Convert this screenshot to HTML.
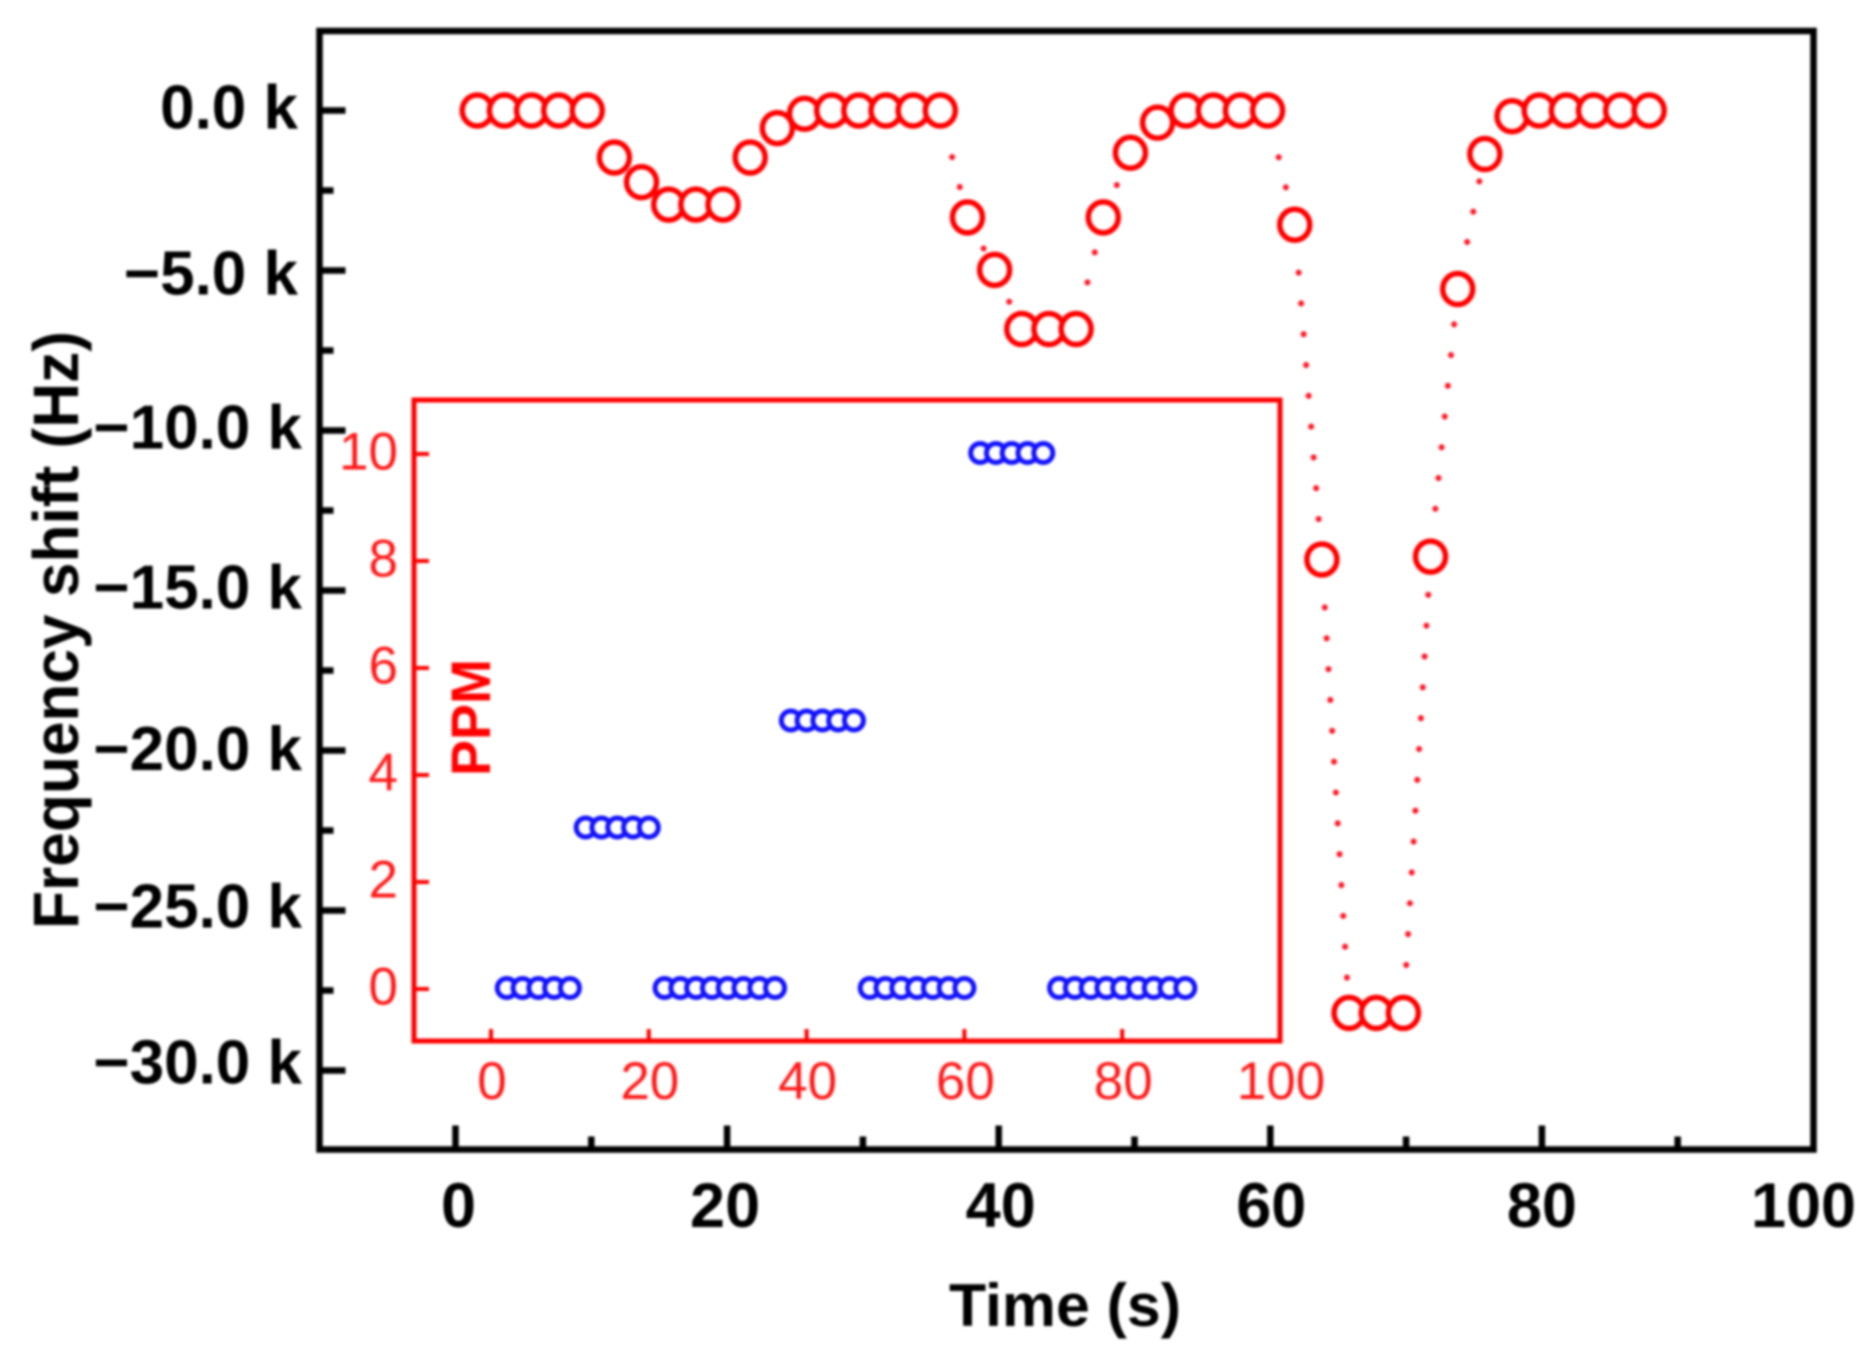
<!DOCTYPE html>
<html>
<head>
<meta charset="utf-8">
<title>Frequency shift vs time</title>
<style>
html,body{margin:0;padding:0;background:#fff;width:1872px;height:1349px;overflow:hidden}
svg{display:block;filter:blur(1.2px)}
text{font-family:"Liberation Sans",sans-serif}
.bold{font-weight:700;fill:#000}
.inset{fill:#ff1a1a}
</style>
</head>
<body>
<svg id="chart" xmlns="http://www.w3.org/2000/svg" width="1872" height="1349" viewBox="0 0 1872 1349">
  <rect x="0" y="0" width="1872" height="1349" fill="#fff"/>
  <rect x="319.5" y="31" width="1494" height="1118.5" fill="none" stroke="#000" stroke-width="6.5"/>
  <g id="mainAxes"></g>
  <g id="mainSeries"></g>
  <rect x="414" y="400" width="866" height="641" fill="#fff" fill-opacity="0" stroke="#ff0000" stroke-width="5"/>
  <g id="insetAxes"></g>
  <g id="insetSeries"></g>
  <text class="bold" font-size="64" textLength="598" lengthAdjust="spacingAndGlyphs" transform="translate(78,929) rotate(-90)" fill="#111">Frequency shift (Hz)</text>
  <text class="bold" font-size="60" textLength="232" lengthAdjust="spacingAndGlyphs" x="949" y="1326">Time (s)</text>
  <text font-weight="700" fill="#ff0000" font-size="56" textLength="117" lengthAdjust="spacingAndGlyphs" transform="translate(490,776) rotate(-90)">PPM</text>
</svg>
<script>
const times = [1.6,3.6,5.6,7.6,9.7,11.7,13.7,15.7,17.7,19.7,21.7,23.7,25.7,27.7,29.7,31.7,33.7,35.7,37.7,39.7,41.7,43.7,45.7,47.7,49.7,51.7,53.8,55.8,57.8,59.8,61.8,63.8,65.8,67.8,69.8,71.8,73.8,75.8,77.8,79.8,81.8,83.8,85.8,87.9];
const freqShiftK = [0,0,0,0,0,-1.47,-2.24,-2.94,-2.94,-2.94,-1.47,-0.55,-0.1,0,0,0,0,0,-3.34,-4.98,-6.83,-6.83,-6.83,-3.34,-1.32,-0.38,0,0,0,0,-3.57,-14.03,-28.2,-28.2,-28.2,-13.94,-5.58,-1.36,-0.18,0,0,0,0,0];
const insetTimes = [2,4,6,8,10,12,14,16,18,20,22,24,26,28,30,32,34,36,38,40,42,44,46,48,50,52,54,56,58,60,62,64,66,68,70,72,74,76,78,80,82,84,86,88];
const ppmValues = [0,0,0,0,0,3,3,3,3,3,0,0,0,0,0,0,0,0,5,5,5,5,5,0,0,0,0,0,0,0,10,10,10,10,10,0,0,0,0,0,0,0,0,0];
const xMajorTicks = [0,20,40,60,80,100];
const xMinorTicks = [10,30,50,70,90];
const yMajorTicks = [0,-5,-10,-15,-20,-25,-30];
const yMinorTicks = [-2.5,-7.5,-12.5,-17.5,-22.5,-27.5];
const yTickLabels = ['0.0 k','\u22125.0 k','\u221210.0 k','\u221215.0 k','\u221220.0 k','\u221225.0 k','\u221230.0 k'];
const insetXTicks = [0,20,40,60,80,100];
const insetYTicks = [0,2,4,6,8,10];

const xMain = t => 455.5 + t * 13.58;
const yMain = k => 110.5 - k * 32;
const xInset = t => 491 + t * 7.89;
const yInset = p => 989 - p * 53.5;

const xLabelNudge = { 0: 3, 20: -2, 40: 2, 60: 1, 80: 0, 100: -10 };
const yLabelNudge = { 0: 18, '-5': 24, '-10': 18, '-15': 18, '-20': 19.5, '-25': 17, '-30': 13 };

const NS = 'http://www.w3.org/2000/svg';
const mainAxes = document.getElementById('mainAxes');
const mainSeries = document.getElementById('mainSeries');
const insetAxes = document.getElementById('insetAxes');
const insetSeries = document.getElementById('insetSeries');
const mk = (tag, parent) => { const el = document.createElementNS(NS, tag); parent.appendChild(el); return el; };
const lineTo = (el, x1, y1, x2, y2, color, w) => {
  el.setAttribute('x1', x1); el.setAttribute('y1', y1);
  el.setAttribute('x2', x2); el.setAttribute('y2', y2);
  el.setAttribute('stroke', color); el.setAttribute('stroke-width', w);
};
const mainBottom = 1149.5, mainLeft = 319.5, insetBottom = 1041, insetLeft = 414;

xMajorTicks.forEach(v => {
  if (v === 100) return;
  const l = mk('line', mainAxes);
  
  
  lineTo(l, xMain(v), mainBottom, xMain(v), mainBottom - 24, '#000', 6.5);
});
xMinorTicks.forEach(v => {
  const l = mk('line', mainAxes);
  
  
  lineTo(l, xMain(v), mainBottom, xMain(v), mainBottom - 13, '#000', 6.5);
});
xMajorTicks.forEach(v => {
  const t = mk('text', mainAxes);
  
  
  t.setAttribute('class', 'bold');
  t.setAttribute('font-size', '63');
  t.setAttribute('text-anchor', 'middle');
  t.setAttribute('x', xMain(v) + xLabelNudge[v]);
  t.setAttribute('y', 1227);
  t.textContent = String(v);
});
yMajorTicks.forEach((v, i) => {
  const l = mk('line', mainAxes);
  
  
  lineTo(l, mainLeft, yMain(v), mainLeft + 26, yMain(v), '#000', 6.5);
  const t = mk('text', mainAxes);
  
  
  t.setAttribute('class', 'bold');
  t.setAttribute('font-size', '62');
  t.setAttribute('text-anchor', 'end');
  t.setAttribute('x', i < 2 ? 298 : 302);
  t.setAttribute('y', yMain(v) + yLabelNudge[v]);
  t.textContent = yTickLabels[i];
});
yMinorTicks.forEach(v => {
  const l = mk('line', mainAxes);
  
  
  lineTo(l, mainLeft, yMain(v), mainLeft + 14, yMain(v), '#000', 6.5);
});

for (let i = 0; i < times.length - 1; i++) {
  const x1 = xMain(times[i]), y1 = yMain(freqShiftK[i]);
  const x2 = xMain(times[i + 1]), y2 = yMain(freqShiftK[i + 1]);
  const len = Math.hypot(x2 - x1, y2 - y1);
  const startGap = len < 100 ? 35 : 48;
  const endGap = 24;
  if (len <= startGap + endGap) continue;
  const ux = (x2 - x1) / len, uy = (y2 - y1) / len;
  const s = mk('line', mainSeries);
  
  
  lineTo(s, x1 + ux * startGap, y1 + uy * startGap, x2 - ux * endGap, y2 - uy * endGap, '#ff1a2a', 6);
  s.setAttribute('stroke-linecap', 'round');
  s.setAttribute('stroke-dasharray', '0.1 30.8');
}
times.forEach((t, i) => {
  const c = mk('ellipse', mainSeries);
  
  
  c.setAttribute('cx', xMain(t));
  c.setAttribute('cy', yMain(freqShiftK[i]));
  c.setAttribute('rx', '15');
  c.setAttribute('ry', '15.5');
  c.setAttribute('fill', '#fff');
  c.setAttribute('stroke', '#ff0000');
  c.setAttribute('stroke-width', '5.5');
});

insetXTicks.forEach(v => {
  if (v !== 100) {
    const l = mk('line', insetAxes);
    
    
    lineTo(l, xInset(v), insetBottom, xInset(v), insetBottom - 12, '#ff0000', 4);
  }
  const t = mk('text', insetAxes);
  
  
  t.setAttribute('class', 'inset');
  t.setAttribute('font-size', '53');
  t.setAttribute('text-anchor', 'middle');
  t.setAttribute('x', xInset(v) + 1);
  t.setAttribute('y', 1099);
  t.textContent = String(v);
});
insetYTicks.forEach(v => {
  const l = mk('line', insetAxes);
  
  
  lineTo(l, insetLeft, yInset(v), insetLeft + 15, yInset(v), '#ff0000', 4);
  const t = mk('text', insetAxes);
  
  
  t.setAttribute('class', 'inset');
  t.setAttribute('font-size', '53');
  t.setAttribute('text-anchor', 'end');
  t.setAttribute('x', 398);
  t.setAttribute('y', yInset(v) + 15.5);
  t.textContent = String(v);
});
insetTimes.forEach((t, i) => {
  const c = mk('ellipse', insetSeries);
  
  
  c.setAttribute('cx', xInset(t));
  c.setAttribute('cy', yInset(ppmValues[i]) - 1);
  c.setAttribute('rx', '9.5');
  c.setAttribute('ry', '9.5');
  c.setAttribute('fill', '#fff');
  c.setAttribute('stroke', '#1212ff');
  c.setAttribute('stroke-width', '5');
});
</script>
</body>
</html>
